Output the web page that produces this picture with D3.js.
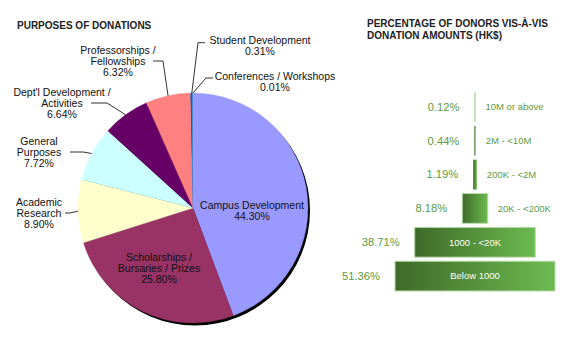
<!DOCTYPE html>
<html>
<head>
<meta charset="utf-8">
<script src="https://cdn.jsdelivr.net/npm/d3@7"></script>
<style>
  html, body { margin: 0; padding: 0; background: #fff; }
  svg { display: block; font-family: "Liberation Sans", Arial, Helvetica, sans-serif; }
</style>
</head>
<body>
<svg id="chart" width="578" height="350"></svg>
<script>
// ---------- DATA ----------
const purposeCategories = [
  "Campus Development",
  "Scholarships /\nBursaries / Prizes",
  "Academic\nResearch",
  "General\nPurposes",
  "Dept'l Development /\nActivities",
  "Professorships /\nFellowships",
  "Student Development",
  "Conferences / Workshops"
];
const purposeValues = [44.30, 25.80, 8.90, 7.72, 6.64, 6.32, 0.31, 0.01];
const purposeColors = ["#9999FF", "#993366", "#FFFFCC", "#CCFFFF", "#660066", "#FF8080", "#0066CC", "#CCCCFF"];

const amountCategories = ["10M or above", "2M - <10M", "200K - <2M", "20K - <200K", "1000 - <20K", "Below 1000"];
const amountValues = [0.12, 0.44, 1.19, 8.18, 38.71, 51.36];

const leftTitle = "PURPOSES OF DONATIONS";
const rightTitle = ["PERCENTAGE OF DONORS VIS-À-VIS", "DONATION AMOUNTS (HK$)"];

// ---------- LAYOUT ----------
const svg = d3.select("#chart");
const cx = 193, cy = 208, R = 115;
const fontSize = 10.5, lineH = 11;

// label layout: [centerX, firstLineCenterY, leader elbow, leader end] (null = inside)
const labelLayout = [
  { x: 252, y: 205, leader: null },
  { x: 159, y: 257, leader: null },
  { x: 39, y: 202, leader: [[70, 213], [65, 213]] },
  { x: 39, y: 141, leader: [[83, 152], [70, 152]] },
  { x: 62, y: 92.5, leader: [[107, 103], [91, 103]] },
  { x: 118, y: 50, leader: [[163, 61], [153, 61]] },
  { x: 260, y: 40.7, leader: [[198, 42.7], [205, 42.7]] },
  { x: 275, y: 76.7, leader: [[206, 78], [213, 78]] }
];

// titles
svg.append("text").attr("x", 17).attr("y", 28.5)
  .attr("font-size", 10).attr("font-weight", "bold").attr("fill", "#222")
  .text(leftTitle);
rightTitle.forEach((t, i) => {
  svg.append("text").attr("x", 367).attr("y", 26.5 + i * 12)
    .attr("font-size", 10).attr("font-weight", "bold").attr("fill", "#222")
    .text(t);
});

// ---------- PIE ----------
const pieData = purposeCategories.map((c, i) => ({ name: c, value: purposeValues[i], color: purposeColors[i], layout: labelLayout[i] }));
const pie = d3.pie().value(d => d.value).sort(null).startAngle(0).endAngle(2 * Math.PI);
const arcs = pie(pieData);
const arc = d3.arc().innerRadius(0).outerRadius(R);

const g = svg.append("g").attr("transform", `translate(${cx},${cy})`);
// shadow
g.append("circle").attr("cx", 2).attr("cy", 2.5).attr("r", R).attr("fill", "#000");
g.selectAll("path.slice").data(arcs).enter().append("path")
  .attr("class", "slice")
  .attr("d", arc)
  .attr("fill", d => d.data.color)
  .attr("stroke", d => d.data.color)
  .attr("stroke-width", 0.3);

// leader lines
arcs.forEach(a => {
  const L = a.data.layout;
  if (!L.leader) return;
  const mid = (a.startAngle + a.endAngle) / 2;
  const p0 = [cx + R * Math.sin(mid), cy - R * Math.cos(mid)];
  const pts = [p0, L.leader[0], L.leader[1]];
  svg.append("path")
    .attr("d", d3.line()(pts))
    .attr("fill", "none").attr("stroke", "#333").attr("stroke-width", 1);
});

// labels
arcs.forEach(a => {
  const L = a.data.layout;
  const lines = a.data.name.split("\n").concat([a.data.value.toFixed(2) + "%"]);
  const t = svg.append("text")
    .attr("text-anchor", "middle")
    .attr("font-size", fontSize)
    .attr("fill", "#111");
  lines.forEach((ln, i) => {
    t.append("tspan").attr("x", L.x).attr("y", L.y + i * lineH).attr("dy", "0.35em").text(ln);
  });
});

// ---------- FUNNEL ----------
const fcx = 475;
const wScale = d3.scaleLinear().domain([0, d3.max(amountValues)]).range([0, 160]);
const yScale = d3.scaleBand().domain(amountCategories).range([92, 291]).paddingInner(0.12).paddingOuter(0);
const green = "#5b9b3f";

const defs = svg.append("defs");
const grad = defs.append("linearGradient").attr("id", "fgrad")
  .attr("x1", "0%").attr("x2", "100%").attr("y1", "0%").attr("y2", "0%");
grad.append("stop").attr("offset", "0%").attr("stop-color", "#3f6a29");
grad.append("stop").attr("offset", "100%").attr("stop-color", "#6cba50");

const fd = amountCategories.map((c, i) => ({ cat: c, v: amountValues[i] }));
const fg = svg.append("g");
fd.forEach(d => {
  const w = Math.max(1, wScale(d.v));
  const x0 = fcx - w / 2;
  const y0 = yScale(d.cat);
  const bh = yScale.bandwidth();
  fg.append("rect")
    .attr("x", x0).attr("y", y0).attr("width", w).attr("height", bh)
    .attr("fill", d.v < 0.3 ? "#8cc57a" : "url(#fgrad)")
    .attr("stroke", w > 6 ? "#b9dcaa" : "none").attr("stroke-width", w > 6 ? 1 : 0);
  // percent label
  fg.append("text")
    .attr("x", x0 - 15).attr("y", y0 + bh / 2).attr("dy", "0.35em")
    .attr("text-anchor", "end").attr("font-size", 11.2).attr("fill", green)
    .text(d.v.toFixed(2) + "%");
  // category label
  const inside = d.v > 20;
  fg.append("text")
    .attr("x", inside ? fcx : x0 + w + 10).attr("y", y0 + bh / 2).attr("dy", "0.35em")
    .attr("text-anchor", inside ? "middle" : "start")
    .attr("font-size", 9.5).attr("fill", inside ? "#fff" : green)
    .text(d.cat);
});
</script>
</body>
</html>
